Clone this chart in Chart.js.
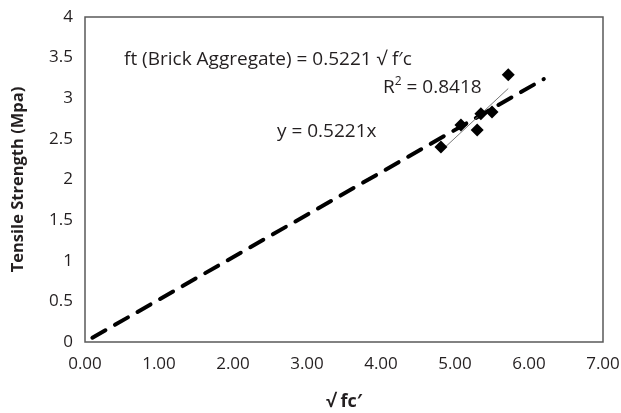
<!DOCTYPE html>
<html>
<head>
<meta charset="utf-8">
<script src="https://cdn.jsdelivr.net/npm/chart.js@4/dist/chart.umd.min.js"></script>
<style>
  html, body { margin: 0; padding: 0; background: #fff; }
  #wrap { width: 621px; height: 413px; }
</style>
</head>
<body>
<div id="wrap"><canvas id="myChart" width="621" height="413"></canvas></div>
<script>
// measured points: sqrt(fc') vs tensile strength
var sqrtFc = [4.81, 5.08, 5.30, 5.35, 5.50, 5.72]
var tensile = [2.40, 2.67, 2.61, 2.81, 2.83, 3.29]

// trendline through the points
var trendX = [4.81, 5.72]
var trendY = [2.35, 3.12]

// y = 0.5221x dashed line ends
var fitX = [0.10, 6.20]
var fitY = [0.052, 3.237]

var xTicks = ['0.00', '1.00', '2.00', '3.00', '4.00', '5.00', '6.00', '7.00']
var yTicks = ['0', '0.5', '1', '1.5', '2', '2.5', '3', '3.5', '4']

var FONT = "'Open Sans', 'Liberation Sans', sans-serif"

function toXY (xs, ys) {
  var out = []
  for (var i = 0; i < xs.length; i++) {
    out.push({x: xs[i], y: ys[i]})
  }
  return out
}

// frame + equation labels
var boxPlugin = {
  id: 'boxPlugin',
  afterDraw (chart) {
    var a = chart.chartArea
    var ctx = chart.ctx
    ctx.save()
    ctx.strokeStyle = '#595959'
    ctx.lineWidth = 1.5
    ctx.strokeRect(a.left, a.top, a.right - a.left, a.bottom - a.top)
    ctx.fillStyle = '#231f20'
    ctx.font = '19px ' + FONT
    ctx.textBaseline = 'middle'
    ctx.textAlign = 'left'
    ctx.fillText('ft (Brick Aggregate) = 0.5221 \u221A f\u2032c', 124, 60)
    ctx.fillText('y = 0.5221x', 277, 132)
    var rx = 383
    ctx.fillText('R', rx, 88)
    var w = ctx.measureText('R').width
    ctx.font = '12px ' + FONT
    ctx.fillText('2', rx + w, 82)
    var w2 = ctx.measureText('2').width
    ctx.font = '19px ' + FONT
    ctx.fillText(' = 0.8418', rx + w + w2, 88)
    ctx.restore()
  }
}

var ctx = document.getElementById('myChart').getContext('2d')
var chart = new Chart(ctx, {
  type: 'scatter',
  data: {
    datasets: [
      {
        type: 'line',
        data: toXY(fitX, fitY),
        borderColor: '#000',
        borderWidth: 4,
        borderDash: [15, 11],
        borderCapStyle: 'round',
        pointRadius: 0,
        order: 3
      },
      {
        type: 'line',
        data: toXY(trendX, trendY),
        borderColor: '#777',
        borderWidth: 1,
        pointRadius: 0,
        order: 2
      },
      {
        data: toXY(sqrtFc, tensile),
        pointStyle: 'rectRot',
        pointRadius: 6.5,
        backgroundColor: '#000',
        borderColor: '#000',
        borderWidth: 0,
        order: 1
      }
    ]
  },
  options: {
    responsive: false,
    animation: false,
    layout: { padding: { left: 0, right: 18, top: 17, bottom: 0 } },
    plugins: {
      legend: { display: false },
      tooltip: { enabled: false }
    },
    scales: {
      x: {
        type: 'linear',
        min: 0,
        max: 7,
        grid: { display: false, drawTicks: false },
        border: { display: false },
        ticks: {
          stepSize: 1,
          padding: 12,
          color: '#231f20',
          font: { family: FONT, size: 17 },
          callback: function (v) { return xTicks[Math.round(v)] }
        },
        title: {
          display: true,
          text: '\u221A fc\u2032',
          color: '#231f20',
          font: { family: FONT, size: 18, weight: 'bold' },
          padding: { top: 11, bottom: 0 }
        },
        afterFit: function (s) {
          s.height = 71
          s.paddingLeft = 0
          s.paddingRight = 0
        }
      },
      y: {
        min: 0,
        max: 4,
        grid: { display: false, drawTicks: false },
        border: { display: false },
        ticks: {
          stepSize: 0.5,
          padding: 12,
          color: '#231f20',
          font: { family: FONT, size: 17 },
          callback: function (v) { return yTicks[Math.round(v * 2)] }
        },
        title: {
          display: true,
          text: 'Tensile Strength (Mpa)',
          color: '#231f20',
          font: { family: FONT, size: 16.5, weight: 'bold' },
          padding: { top: 8, bottom: 6 }
        },
        afterFit: function (s) {
          s.width = 85
          s.paddingTop = 0
          s.paddingBottom = 0
        }
      }
    }
  },
  plugins: [boxPlugin]
})
</script>
</body>
</html>
